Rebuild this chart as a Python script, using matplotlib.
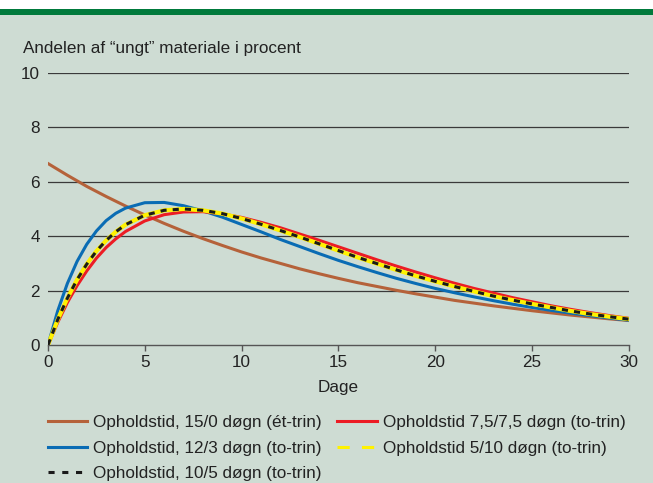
import matplotlib.pyplot as plt
from matplotlib.lines import Line2D
from matplotlib.patches import Rectangle

plt.rcParams['font.family'] = ['Liberation Sans', 'DejaVu Sans']

# days for the one-stage curve
days = [0, 1, 2, 3, 4, 5, 6, 7, 8, 9, 10, 11, 12, 13, 14, 15, 16, 17, 18, 19, 20,
        21, 22, 23, 24, 25, 26, 27, 28, 29, 30]
# days for the two-stage curves (finer at the start)
days_fine = [0, 0.5, 1, 1.5, 2, 2.5, 3, 3.5, 4, 5, 6, 7, 8, 9, 10, 11, 12, 13, 14, 15,
             16, 17, 18, 19, 20, 21, 22, 23, 24, 25, 26, 27, 28, 29, 30]

one_stage_15_0 = [6.67, 6.24, 5.83, 5.46, 5.11, 4.78, 4.47, 4.18, 3.91, 3.66, 3.42,
                  3.20, 3.00, 2.80, 2.62, 2.45, 2.29, 2.15, 2.01, 1.88, 1.76, 1.64,
                  1.54, 1.44, 1.35, 1.26, 1.18, 1.10, 1.03, 0.96, 0.90]
two_stage_12_3 = [0, 1.25, 2.26, 3.07, 3.70, 4.19, 4.57, 4.84, 5.03, 5.23, 5.24, 5.12,
                  4.93, 4.70, 4.43, 4.16, 3.88, 3.62, 3.36, 3.11, 2.88, 2.66, 2.45,
                  2.26, 2.08, 1.92, 1.77, 1.63, 1.50, 1.38, 1.27, 1.17, 1.08, 0.99, 0.91]
two_stage_75_75 = [0, 0.83, 1.56, 2.18, 2.72, 3.19, 3.58, 3.90, 4.17, 4.56, 4.79, 4.89,
                   4.90, 4.82, 4.69, 4.51, 4.31, 4.08, 3.85, 3.61, 3.37, 3.13, 2.90,
                   2.68, 2.47, 2.27, 2.08, 1.91, 1.74, 1.59, 1.44, 1.31, 1.19, 1.08, 0.98]
two_stage_5_10 = [0, 0.93, 1.72, 2.40, 2.97, 3.45, 3.84, 4.16, 4.42, 4.77, 4.95, 5.00,
                  4.95, 4.83, 4.65, 4.44, 4.21, 3.97, 3.72, 3.47, 3.22, 2.99, 2.76,
                  2.54, 2.34, 2.15, 1.97, 1.80, 1.65, 1.51, 1.38, 1.25, 1.14, 1.04, 0.95]
two_stage_10_5 = [0, 0.93, 1.72, 2.40, 2.97, 3.45, 3.84, 4.16, 4.42, 4.77, 4.95, 5.00,
                  4.95, 4.83, 4.65, 4.44, 4.21, 3.97, 3.72, 3.47, 3.22, 2.99, 2.76,
                  2.54, 2.34, 2.15, 1.97, 1.80, 1.65, 1.51, 1.38, 1.25, 1.14, 1.04, 0.95]

labels = ["Opholdstid, 15/0 døgn (ét-trin)",
          "Opholdstid, 12/3 døgn (to-trin)",
          "Opholdstid, 10/5 døgn (to-trin)",
          "Opholdstid 7,5/7,5 døgn (to-trin)",
          "Opholdstid 5/10 døgn (to-trin)"]

bg = '#cedcd3'
brown = '#b5623a'
blue = '#0a6cb4'
red = '#ec1c24'
yellow = '#fff200'
grid_col = '#3a3a3a'
txt = '#222222'
fs = 12.3

fig = plt.figure(figsize=(6.53, 4.83), dpi=100, facecolor=bg)
fig.patches.append(Rectangle((0, 0.981), 1, 0.019, transform=fig.transFigure,
                             facecolor='white', edgecolor='none'))
fig.patches.append(Rectangle((0, 0.968), 1, 0.014, transform=fig.transFigure,
                             facecolor='#007a3c', edgecolor='none'))

ax = fig.add_axes([0.0735, 0.2857, 0.8895, 0.5633])
ax.set_facecolor(bg)

ax.plot(days, one_stage_15_0, color=brown, lw=2.2, zorder=3)
ax.plot(days_fine, two_stage_12_3, color=blue, lw=2.2, zorder=3)
ax.plot(days_fine, two_stage_75_75, color=red, lw=2.2, zorder=3)
ax.plot(days_fine, two_stage_5_10, color=yellow, lw=3, zorder=4)
ax.plot(days_fine, two_stage_10_5, color='#1a1a1a', lw=2.2, ls=(0, (2, 2)), zorder=5)

ax.set_xlim(0, 30)
ax.set_ylim(0, 10)
ax.set_xticks([0, 5, 10, 15, 20, 25, 30])
ax.set_yticks([0, 2, 4, 6, 8, 10])
for y in [2, 4, 6, 8, 10]:
    ax.axhline(y, color=grid_col, lw=0.9, zorder=1)

for s in ['left', 'right', 'top']:
    ax.spines[s].set_visible(False)
ax.spines['bottom'].set_color('#555555')
ax.spines['bottom'].set_linewidth(1.0)
ax.tick_params(axis='x', direction='out', length=4, width=1, color='#555555',
               labelsize=fs, labelcolor=txt, pad=3.2)
ax.tick_params(axis='y', length=0, labelsize=fs, labelcolor=txt, pad=6)
ax.set_xlabel('Dage', fontsize=fs, color=txt, labelpad=7.3)

fig.text(23 / 653, 1 - 49 / 483, 'Andelen af \u201cungt\u201d materiale i procent',
         fontsize=fs, color=txt, va='center', ha='left')

handles = [Line2D([], [], color=brown, lw=2.2),
           Line2D([], [], color=blue, lw=2.2),
           Line2D([], [], color='#1a1a1a', lw=2.2, ls=(0, (2, 2.5))),
           Line2D([], [], color=red, lw=2.2),
           Line2D([], [], color=yellow, lw=2.2, ls=(0, (4, 4)))]
fig.legend(handles, labels, ncol=2, loc='upper left', bbox_to_anchor=(0.0735, 0.1406),
           frameon=False, fontsize=fs, handlelength=2.3, handletextpad=0.35,
           columnspacing=0.9, labelspacing=0.62, borderaxespad=0, borderpad=0,
           labelcolor=txt)

fig.savefig('out.png', dpi=100, facecolor=bg)
